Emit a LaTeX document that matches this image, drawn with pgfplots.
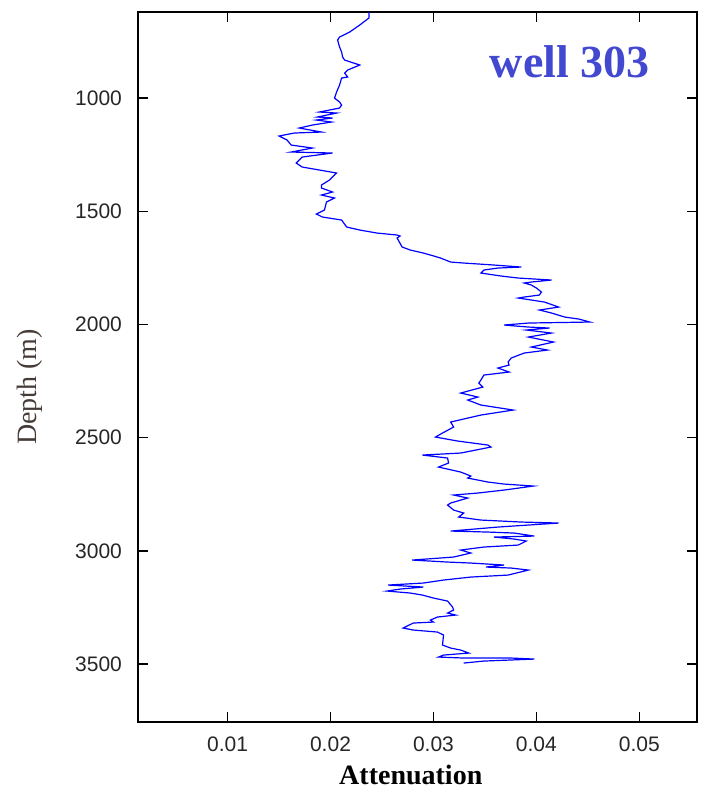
\documentclass[border=0pt]{standalone}
\usepackage{pgfplots}
\pgfplotsset{compat=1.18}
\usepackage{fontspec}
\setmainfont{Liberation Serif}
\setsansfont{Liberation Sans}
\definecolor{wellblue}{RGB}{66,72,208}
\definecolor{labgray}{RGB}{70,60,55}
\begin{document}
\begin{tikzpicture}
\begin{axis}[
  scale only axis,
  width=279.5pt, height=355pt,
  xmin=0.0013, xmax=0.0556,
  ymin=620, ymax=3756,
  y dir=reverse,
  scaled x ticks=false,
  axis line style={line width=0.8pt},
  tick style={line width=0.7pt, black},
  major tick length=5pt,
  tick align=inside,
  xtick={0.01,0.02,0.03,0.04,0.05},
  ytick={1000,1500,2000,2500,3000,3500},
  xticklabels={0.01,0.02,0.03,0.04,0.05},
  /pgf/number format/1000 sep={},
  /pgf/number format/assume math mode=true,
  ticklabel style={font=\sffamily\fontsize{10.5}{12}\selectfont, text=black!85},
  xticklabel style={yshift=-4pt},
  yticklabel style={xshift=-4.5pt},
  xlabel={\textbf{Attenuation}},
  ylabel={Depth (m)},
  xlabel style={font=\fontsize{14}{16}\selectfont, at={(axis description cs:0.488,-0.075)}, anchor=center},
  ylabel style={font=\fontsize{14}{16}\selectfont, text=labgray, at={(axis description cs:-0.193,0.472)}, anchor=center, rotate=0},
  clip=true,
]
\addplot[blue, line width=0.6pt] coordinates {
(0.02373,620) (0.02373,646.6) (0.02284,677.6) (0.02186,708.5) (0.02088,730.6)
(0.02069,743.8) (0.02088,774.7) (0.02108,796.8) (0.02118,818.9) (0.02137,832.2)
(0.02284,854.2) (0.02167,876.3) (0.02137,889.6) (0.02167,907.2) (0.02108,911.7)
(0.02088,942.6) (0.02059,973.5) (0.02039,1000) (0.02088,1017.7) (0.02108,1030.9)
(0.02088,1044.2) (0.01892,1061.8) (0.02059,1066.3) (0.01873,1083.9) (0.02020,1088.3)
(0.01863,1097.2) (0.02010,1106) (0.01824,1119.3) (0.01696,1132.5) (0.01912,1150.2)
(0.01647,1154.6) (0.01500,1167.8) (0.01578,1185.5) (0.01618,1207.6) (0.01824,1220.9)
(0.01618,1238.5) (0.02020,1242.9) (0.01725,1260.6) (0.01667,1287.1) (0.01725,1304.8)
(0.01892,1318) (0.02059,1331.3) (0.01990,1362.2) (0.01912,1384.3) (0.01912,1397.5)
(0.02020,1415.2) (0.01912,1428.4) (0.02039,1441.7) (0.01961,1459.4) (0.01941,1494.7)
(0.01863,1512.4) (0.01922,1525.6) (0.02108,1538.9) (0.02157,1569.8) (0.02284,1583.0)
(0.02451,1596.3) (0.02647,1605.1) (0.02676,1609.5) (0.02647,1618.4) (0.02696,1658.1)
(0.02775,1671.4) (0.02902,1684.6) (0.02971,1693.5) (0.03069,1706.7) (0.03167,1724.4)
(0.03294,1728.8) (0.03588,1737.6) (0.03853,1746.5) (0.03627,1750.9) (0.03490,1759.7)
(0.03461,1773.0) (0.03657,1786.2) (0.03824,1795.1) (0.04147,1803.9) (0.03951,1812.7)
(0.03882,1817.1) (0.03951,1826.0) (0.04000,1839.2) (0.04049,1856.9) (0.04029,1870.1)
(0.03882,1879.0) (0.03824,1883.4) (0.03951,1892.2) (0.04078,1901.1) (0.04216,1923.2)
(0.04029,1936.4) (0.04147,1949.7) (0.04275,1967.3) (0.04412,1976.2) (0.04520,1989.4)
(0.03922,1993.8) (0.03686,2002.7) (0.03922,2011.5) (0.04127,2015.9) (0.03902,2024.7)
(0.04147,2038.0) (0.03922,2055.7) (0.04167,2077.7) (0.03951,2099.8) (0.04108,2113.1)
(0.03882,2126.3) (0.03755,2148.4) (0.03725,2166.1) (0.03735,2179.3) (0.03627,2192.6)
(0.03735,2210.3) (0.03490,2223.5) (0.03461,2245.6) (0.03441,2258.8) (0.03480,2276.5)
(0.03265,2303.0) (0.03431,2320.7) (0.03333,2333.9) (0.03461,2356.0) (0.03775,2378.1)
(0.03461,2400.2) (0.03167,2431.1) (0.03196,2453.2) (0.03088,2479.7) (0.03020,2497.4)
(0.03235,2515.0) (0.03529,2532.7) (0.03559,2541.5) (0.03265,2568.0) (0.02892,2576.9)
(0.03137,2590.1) (0.03147,2612.2) (0.03049,2629.9) (0.03265,2652.0) (0.03363,2669.6)
(0.03333,2678.5) (0.03529,2696.1) (0.03686,2705.0) (0.03971,2713.8) (0.03686,2731.5)
(0.03431,2744.7) (0.03196,2753.5) (0.03333,2766.8) (0.03167,2788.9) (0.03137,2797.7)
(0.03196,2819.8) (0.03294,2833.1) (0.03245,2850.7) (0.03461,2864.0) (0.03853,2872.8)
(0.04216,2877.2) (0.03627,2894.9) (0.03167,2912.6) (0.03529,2917.0) (0.03784,2921.4)
(0.03980,2934.7) (0.03588,2939.1) (0.03784,2947.9) (0.03902,2956.7) (0.03824,2974.4)
(0.03490,2983.2) (0.03265,2996.5) (0.03363,3009.7) (0.03196,3027.4) (0.02794,3040.7)
(0.03137,3049.5) (0.03363,3053.9) (0.03686,3062.7) (0.03510,3071.6) (0.03755,3076.0)
(0.03922,3084.9) (0.03725,3107.0) (0.03363,3115.8) (0.03098,3129.0) (0.02902,3142.2)
(0.02559,3151.1) (0.02902,3159.9) (0.02676,3168.8) (0.02549,3177.6) (0.02775,3186.4)
(0.02892,3195.2) (0.03000,3208.5) (0.03137,3221.8) (0.03186,3248.3) (0.03196,3261.5)
(0.03137,3274.8) (0.03216,3283.6) (0.03039,3292.4) (0.02971,3305.7) (0.03000,3314.5)
(0.02804,3318.9) (0.02706,3341.0) (0.02804,3349.8) (0.03039,3358.7) (0.03098,3371.9)
(0.03088,3416.1) (0.03167,3429.4) (0.03265,3438.2) (0.03343,3451.5) (0.03098,3460.3)
(0.03049,3469.1) (0.03294,3473.5) (0.03755,3473.5) (0.03980,3478.0) (0.03490,3486.8)
(0.03294,3495.6)
};
\node[font=\bfseries\fontsize{23}{26}\selectfont, text=wellblue] at (axis cs:0.04324,841) {well 303};
\end{axis}
\pgfresetboundingbox
\useasboundingbox ([xshift=-69pt,yshift=-38pt]current axis.south west) rectangle ([xshift=2pt,yshift=6pt]current axis.north east);
\end{tikzpicture}
\end{document}
